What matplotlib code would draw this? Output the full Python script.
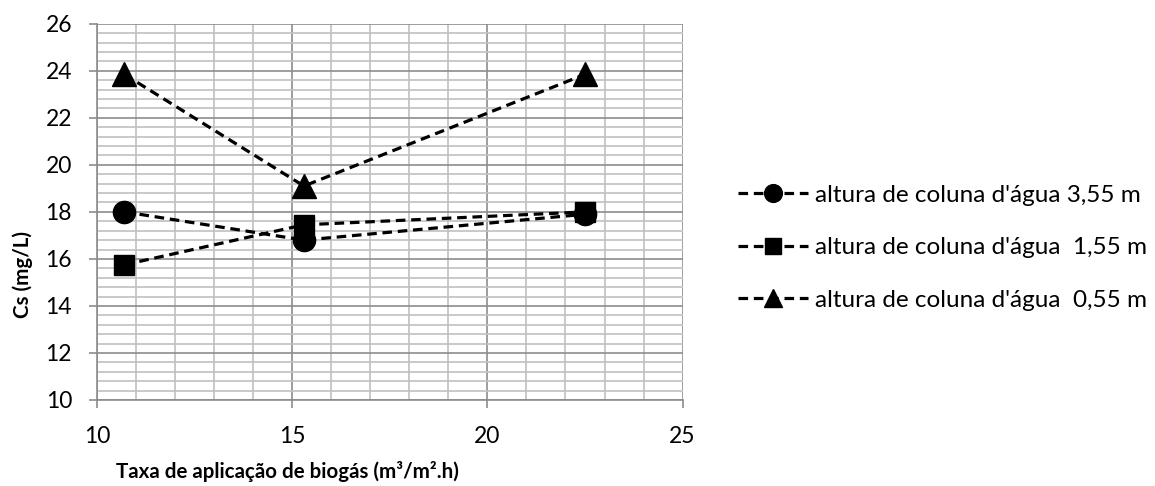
import numpy as np
import matplotlib.pyplot as plt
from matplotlib.ticker import MultipleLocator

plt.rcParams['font.family'] = ['Lato', 'DejaVu Sans']

# Data
taxa = [10.7, 15.3, 22.5]  # m3/m2.h
cs_355 = [18.0, 16.8, 17.9]
cs_155 = [15.75, 17.45, 18.0]
cs_055 = [23.85, 19.1, 23.85]
labels = ["altura de coluna d'água 3,55 m",
          "altura de coluna d'água  1,55 m",
          "altura de coluna d'água  0,55 m"]

fig = plt.figure(figsize=(11.55, 4.86), dpi=100)
ax = fig.add_axes([0.084, 0.177, 0.507, 0.774])

style = dict(color='black', linestyle=(0, (3, 1.8)), linewidth=2.3, clip_on=False)
ax.plot(taxa, cs_355, marker='o', markersize=16, label=labels[0], **style)
ax.plot(taxa, cs_155, marker='s', markersize=15, label=labels[1], **style)
ax.plot(taxa, cs_055, marker='^', markersize=17, label=labels[2], **style)

ax.set_xlim(10, 25)
ax.set_ylim(10, 26)
ax.xaxis.set_major_locator(MultipleLocator(5))
ax.xaxis.set_minor_locator(MultipleLocator(1))
ax.yaxis.set_major_locator(MultipleLocator(2))
ax.yaxis.set_minor_locator(MultipleLocator(0.4))
ax.grid(which='major', color='#8c8c8c', linewidth=1.2)
ax.grid(which='minor', color='#c0c0c0', linewidth=1.2)
ax.set_axisbelow(True)

for s in ['top', 'right']:
    ax.spines[s].set_visible(False)
for s in ['left', 'bottom']:
    ax.spines[s].set_color('#8c8c8c')
    ax.spines[s].set_linewidth(1.2)
ax.tick_params(which='major', length=6, color='#8c8c8c', width=1.2,
               labelsize=16.5)
ax.tick_params(which='minor', length=0)
ax.tick_params(axis='y', pad=12)
ax.tick_params(axis='x', pad=13)

fig.text(0.249, 0.029, 'Taxa de aplicação de biogás (m³/m².h)', fontsize=14.8,
         fontweight='bold', ha='center', va='center')
fig.text(0.020, 0.436, 'Cs (mg/L)', fontsize=14.8, fontweight='bold',
         rotation=90, ha='center', va='center')

ax.legend(loc='center left', bbox_to_anchor=(1.094, 0.405), frameon=False,
          fontsize=17.5, handlelength=2.9, handletextpad=0.3,
          labelspacing=1.3, markerscale=0.8, borderpad=0, borderaxespad=0)

fig.savefig('out.png', dpi=100)
